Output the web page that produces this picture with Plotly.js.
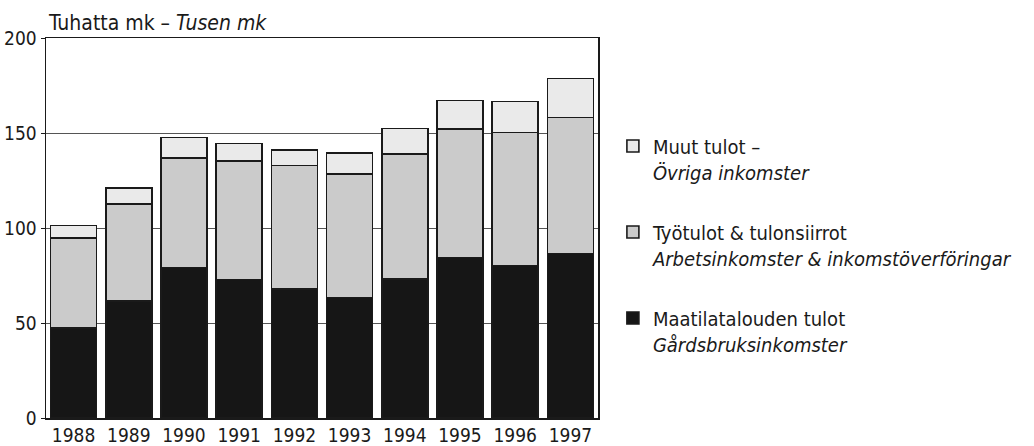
<!DOCTYPE html>
<html>
<head>
<meta charset="utf-8">
<script src="https://cdn.plot.ly/plotly-3.0.1.min.js"></script>
<style>
html,body{margin:0;padding:0;background:#fff;}
#chart{width:1034px;height:446px;}
#chart text{font-stretch:condensed !important;}
</style>
</head>
<body>
<div id="chart"></div>
<script>
const years = ['1988','1989','1990','1991','1992','1993','1994','1995','1996','1997'];
const farmIncome = [47.4, 61.7, 79.3, 72.8, 68.0, 63.5, 73.3, 84.5, 80.2, 86.5];
const workTransfers = [47.3, 50.9, 57.5, 62.6, 64.8, 64.9, 65.7, 67.6, 70.1, 71.7];
const otherIncome = [6.7, 8.4, 10.9, 9.0, 8.2, 11.1, 13.4, 15.1, 16.2, 20.4];
const yTicks = [0, 50, 100, 150, 200];
const names = [
  'Maatilatalouden tulot<br><i>Gårdsbruksinkomster</i>',
  'Työtulot &amp; tulonsiirrot<br><i>Arbetsinkomster &amp; inkomstöverföringar</i>',
  'Muut tulot –<br><i>Övriga inkomster</i>'
];
const FONT = '"DejaVu Sans", sans-serif';
const lineStyle = {color: '#1a1a1a', width: 1.6};
const traces = [
  {type: 'bar', x: years, y: farmIncome, name: names[0], legendgroup: 'a', legendrank: 3,
   marker: {color: '#161616', line: lineStyle}},
  {type: 'bar', x: years, y: workTransfers, name: names[1], legendgroup: 'b', legendrank: 2,
   marker: {color: '#cbcbcb', line: lineStyle}},
  {type: 'bar', x: years, y: otherIncome, name: names[2], legendgroup: 'c', legendrank: 1,
   marker: {color: '#eaeaea', line: lineStyle}}
];
const layout = {
  width: 1034, height: 446,
  margin: {l: 46, r: 436, t: 38, b: 28, autoexpand: false},
  barmode: 'stack', bargap: 0.17,
  paper_bgcolor: '#fff', plot_bgcolor: '#fff',
  font: {family: FONT, size: 19, color: '#1a1a1a'},
  showlegend: true,
  legend: {x: 1.027, xanchor: 'left', y: 0.767, yanchor: 'top', traceorder: 'grouped',
           tracegroupgap: 31, valign: 'top', font: {family: FONT, size: 20, color: '#1a1a1a'},
           bgcolor: 'rgba(0,0,0,0)'},
  xaxis: {type: 'category', showgrid: false, ticks: '', showline: true, linecolor: '#1a1a1a',
          linewidth: 1.5, mirror: true, tickfont: {family: FONT, size: 19}},
  yaxis: {range: [0, 200], tickvals: yTicks, ticktext: yTicks.map(String), showgrid: true,
          gridcolor: '#555', gridwidth: 1, ticks: 'outside', ticklen: 4, tickcolor: '#1a1a1a',
          showline: true, linecolor: '#1a1a1a', linewidth: 1.5, mirror: true, zeroline: false,
          tickfont: {family: FONT, size: 19}},
  annotations: [{xref: 'paper', yref: 'paper', x: 0, y: 1.0, xanchor: 'left', yanchor: 'middle',
                 yshift: 15, showarrow: false, align: 'left',
                 text: 'Tuhatta mk – <i>Tusen mk</i>', font: {family: FONT, size: 21, color: '#1a1a1a'}}]
};
Plotly.newPlot('chart', traces, layout, {staticPlot: true, displayModeBar: false});
</script>
</body>
</html>
